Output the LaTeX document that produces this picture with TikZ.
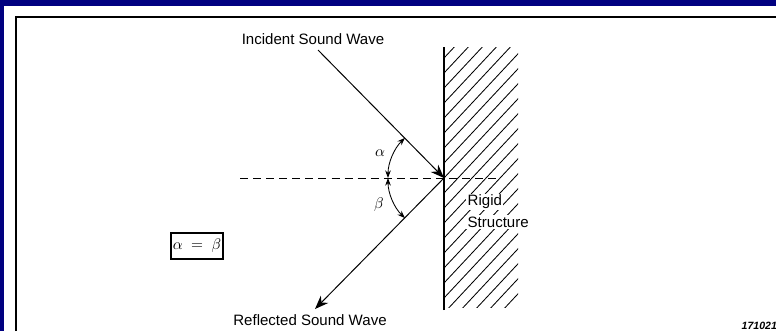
\documentclass[tikz,border=0pt]{standalone}
\usepackage{amsmath,amssymb}
\usepackage{xcolor}
\usepackage{fontspec}
\setmainfont{Liberation Sans}
\usepackage{tikz}
\usetikzlibrary{arrows.meta}
\definecolor{slidenavy}{RGB}{0,0,128}

\begin{document}
\begin{tikzpicture}[
    lbl/.style={font=\fontsize{10.7}{13}\selectfont, inner sep=1pt},
    wave/.style={line width=0.7pt, -{Stealth[length=3.4mm, width=2.6mm]}},
    angarr/.style={line width=0.6pt, {Stealth[length=1.9mm, width=1.4mm]}-{Stealth[length=1.9mm, width=1.4mm]}},
    hatch/.style={line width=0.6pt},
    normal/.style={line width=0.7pt, dash pattern=on 5.7pt off 3.6pt}
]
\useasboundingbox (0,0) rectangle (19.4,8.275);
\fill[slidenavy] (0,0) rectangle (19.4,8.275);
\fill[white] (0.1,0) rectangle (19.4,8.125);
\draw[line width=1.3pt] (0.4,0) -- (0.4,7.85) -- (19.4,7.85);

% rigid wall with hatching
\begin{scope}
  \clip (11.1,0.6) rectangle (12.95,7.08);
  \foreach \k in {-4,...,18} \draw[hatch] (11.1,0.075+\k*0.375) -- ++(2,2.14);
\end{scope}
\draw[line width=1.7pt] (11.1,0.525) -- (11.1,7.1);

\coordinate (O) at (11.1,3.825);
\coordinate (src) at (7.95,7.025);
\coordinate (dst) at (7.875,0.55);
\coordinate (nl) at (6.0,3.825);
\coordinate (nr) at (12.425,3.825);

\draw[normal] (nl) -- (nr);
\draw[wave] (src) -- (O);
\draw[wave] (O) -- (dst);

% angles
\draw[angarr] (O) ++(134.3:1.4) arc[start angle=134.3, end angle=180, radius=1.4];
\draw[angarr] (O) ++(180:1.4) arc[start angle=180, end angle=225.7, radius=1.4];

\node[lbl] (inc) at (7.825,7.3) {Incident Sound Wave};
\node[lbl] (refl) at (7.75,0.275) {Reflected Sound Wave};
\node[lbl] (alpha) at (9.5,4.45) {$\alpha$};
\node[lbl] (beta) at (9.475,3.15) {$\beta$};
\node[lbl, fill=white, anchor=west] (rigid) at (11.65,3.225) {Rigid};
\node[lbl, fill=white, anchor=west] (struct) at (11.65,2.725) {Structure};
\node[lbl, draw, line width=0.8pt, minimum width=1.3cm, minimum height=0.65cm] (eq) at (4.925,2.125) {$\alpha\ =\ \beta$};
\node[font=\fontsize{7.5}{9}\selectfont\bfseries\itshape, anchor=base east, inner sep=0pt] (fig) at (19.43,0.04) {171021};
\end{tikzpicture}
\end{document}
